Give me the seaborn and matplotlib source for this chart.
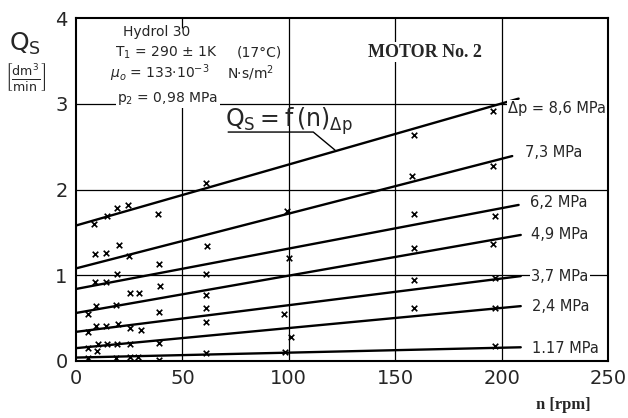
import numpy as np
import pandas as pd
import matplotlib
matplotlib.use("Agg")
import matplotlib.pyplot as plt
import seaborn as sns

# ---------------- data ----------------
pressures = ["8,6", "7,3", "6,2", "4,9", "3,7", "2,4", "1.17"]

# fitted straight lines Qs = f(n) for each pressure drop
line_n_start = [0, 0, 0, 0, 0, 0, 0]
line_n_end = [208, 205, 208, 209, 209, 209, 209]
line_q_start = [1.58, 1.08, 0.84, 0.56, 0.34, 0.15, 0.04]
line_q_end = [3.06, 2.39, 1.82, 1.47, 0.99, 0.64, 0.16]

# measured points (n [rpm], Qs [dm3/min])
n_86 = [8.6, 14.6, 19.3, 24.6, 38.4, 61, 99.3, 158.8, 196.1]
q_86 = [1.60, 1.69, 1.79, 1.82, 1.71, 2.07, 1.75, 2.64, 2.92]
n_73 = [9.1, 14.1, 20.3, 25.0, 39.1, 61.4, 100.0, 157.7, 196.0]
q_73 = [1.25, 1.26, 1.35, 1.23, 1.13, 1.34, 1.20, 2.16, 2.27]
n_62 = [9.1, 14.1, 19.1, 39.5, 61.0, 158.8, 197.0]
q_62 = [0.92, 0.92, 1.02, 0.88, 1.02, 1.71, 1.69]
n_49 = [5.5, 9.4, 18.8, 25.5, 29.5, 39.1, 61.0, 158.8, 196.0]
q_49 = [0.55, 0.64, 0.65, 0.79, 0.79, 0.57, 0.77, 1.32, 1.36]
n_37 = [5.5, 9.4, 14.1, 19.6, 25.5, 30.5, 61.0, 97.9, 158.8, 197.0]
q_37 = [0.34, 0.41, 0.41, 0.43, 0.38, 0.36, 0.62, 0.55, 0.95, 0.97]
n_24 = [5.5, 9.8, 10.2, 14.6, 19.3, 25.6, 39.1, 61.0, 100.9, 159.0, 197.0]
q_24 = [0.15, 0.12, 0.20, 0.20, 0.20, 0.20, 0.21, 0.45, 0.28, 0.62, 0.62]
n_117 = [5.5, 18.8, 25.5, 29.1, 39.1, 61.0, 98.2, 196.7]
q_117 = [0.04, 0.04, 0.05, 0.05, 0.01, 0.09, 0.10, 0.17]

point_n = [n_86, n_73, n_62, n_49, n_37, n_24, n_117]
point_q = [q_86, q_73, q_62, q_49, q_37, q_24, q_117]

x_ticks = [0, 50, 100, 150, 200, 250]
y_ticks = [0, 1, 2, 3, 4]

# ---------------- tables ----------------
rows = []
for p, n0, n1, q0, q1 in zip(pressures, line_n_start, line_n_end, line_q_start, line_q_end):
    rows.append({"series": p, "n": n0, "Q": q0})
    rows.append({"series": p, "n": n1, "Q": q1})
df_lines = pd.DataFrame(rows)

prow = []
for p, ns, qs in zip(pressures, point_n, point_q):
    for n, q in zip(ns, qs):
        prow.append({"series": p, "n": n, "Q": q})
df_pts = pd.DataFrame(prow)

# ---------------- style ----------------
sns.set_style("white")
plt.rcParams["font.family"] = ["DejaVu Sans"]
plt.rcParams["mathtext.fontset"] = "dejavusans"

fig = plt.figure(figsize=(6.28, 4.18), dpi=100)
ax = fig.add_axes([76 / 628, 1 - 361 / 418, 532 / 628, 343 / 418])

# grid (drawn by hand to reproduce the interrupted lines)
gk = dict(color="black", lw=0.9, zorder=1)
ax.vlines(50, 0, 3, **gk)
ax.vlines(50, 3.88, 4, **gk)
ax.vlines([100, 150, 200], 0, 4, **gk)
ax.hlines([1, 2, 3], 0, 250, **gk)

sns.lineplot(data=df_lines, x="n", y="Q", units="series", estimator=None,
             color="black", lw=1.7, legend=False, ax=ax, zorder=3)
sns.scatterplot(data=df_pts, x="n", y="Q", marker="x", color="black",
                s=16, linewidth=1.2, legend=False, ax=ax, zorder=4)

ax.set_xlim(0, 250)
ax.set_ylim(0, 4)
ax.set_xticks(x_ticks)
ax.set_yticks(y_ticks)
ax.set_xticklabels([str(t) for t in x_ticks], fontsize=14)
ax.set_yticklabels([str(t) for t in y_ticks], fontsize=14)
ax.tick_params(length=0, pad=6)
ax.set_xlabel("")
ax.set_ylabel("")
for s in ax.spines.values():
    s.set_color("black")
    s.set_linewidth(1.5)

white = dict(facecolor="white", edgecolor="none", pad=1.0)

# information block
tk = dict(fontsize=10, va="center", ha="left", zorder=5)
ax.text(22, 3.84, "Hydrol 30", **tk)
ax.text(18.5, 3.60, "T$_1$ = 290 ± 1K", **tk)
ax.text(75.5, 3.60, "(17°C)", **tk)
ax.text(16, 3.36, "$\\mu_o$ = 133·10$^{-3}$", **tk)
ax.text(71, 3.36, "N·s/m$^2$", **tk)
ax.text(19.5, 3.06, "p$_2$ = 0,98 MPa", bbox=white, **tk)

ax.text(164, 3.60, "MOTOR No. 2", fontsize=13, fontweight="bold",
        family="Liberation Serif", ha="center", va="center", bbox=white, zorder=5)

# Qs = f(n) label with underline and leader
ax.text(70, 2.80, "$\\mathrm{Q_S = f\\,(n)_{\\Delta p}}$", fontsize=17,
        ha="left", va="center", zorder=5)
ax.plot([71.5, 111.5, 121.7], [2.67, 2.67, 2.46], color="black", lw=1.0, zorder=5)

# pressure labels
lab_n = [203, 211, 213.5, 214, 214, 214.5, 214.5]
lab_q = [2.94, 2.43, 1.85, 1.47, 0.99, 0.63, 0.15]
for i, p in enumerate(pressures):
    txt = ("Δp = " if i == 0 else "") + p + " MPa"
    ax.text(lab_n[i], lab_q[i], txt, fontsize=10.5, ha="left", va="center",
            bbox=white, zorder=5)

# axis titles
fig.text(25 / 628, 1 - 44 / 418, "$\\mathrm{Q_S}$", fontsize=18, ha="center", va="center")
fig.text(26 / 628, 1 - 78 / 418, "$\\left[\\frac{\\mathrm{dm^3}}{\\mathrm{min}}\\right]$",
         fontsize=13, ha="center", va="center")
fig.text(563 / 628, 1 - 405 / 418, "n [rpm]", fontsize=12, fontweight="bold",
         family="Liberation Serif", ha="center", va="center")

fig.savefig("out.png", dpi=100, facecolor="white")
